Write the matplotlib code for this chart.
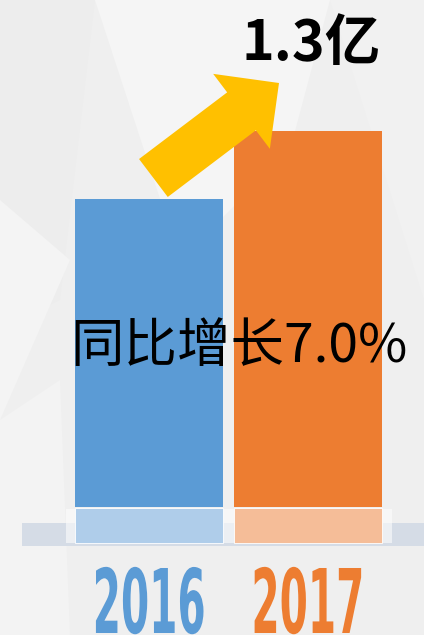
import matplotlib
matplotlib.use("Agg")
import matplotlib.pyplot as plt
import numpy as np
from matplotlib import font_manager
from matplotlib.patches import Polygon, Rectangle, FancyArrow
from matplotlib.patheffects import AbstractPathEffect
from matplotlib.transforms import Affine2D

# --------- DATA ----------
years = ["2016", "2017"]
values = [1.215, 1.30]          # 亿, 2017 = 1.3亿, +7.0%
total_label = "1.3亿"
growth_label = "同比增长7.0%"
bar_colors = ["#5B9BD5", "#ED7D31"]
light_colors = ["#AFCDEA", "#F5BD98"]

W, H = 424, 635
base = 0.785        # bars start here (axis is cut)
px_per_unit = 800.0
refl = 0.044        # lighter "reflection" part at the foot of each bar


class Stretch(AbstractPathEffect):
    # tall, narrow digits: scale glyphs around their centre / baseline
    def __init__(self, sx, sy):
        super().__init__()
        self.sx, self.sy = sx, sy

    def draw_path(self, renderer, gc, tpath, affine, rgbFace=None):
        ext = tpath.get_extents(affine)
        cx = (ext.x0 + ext.x1) / 2
        by = affine.transform_point((0, 0))[1]
        t = affine + Affine2D().translate(-cx, -by).scale(self.sx, self.sy).translate(cx, by)
        renderer.draw_path(gc, tpath, t, rgbFace)


names = {f.name for f in font_manager.fontManager.ttflist}
if "Liberation Sans Narrow" in names:
    year_font, digit_w, digit_h = "Liberation Sans Narrow", 0.456, 0.716
else:
    year_font, digit_w, digit_h = "DejaVu Sans", 0.696, 0.729

year_size = 44
em = year_size * 100 / 72
sx = 113 / (4 * digit_w * em)
sy = 65 / (digit_h * em)

cjk = ["Noto Sans CJK SC", "DejaVu Sans"]

fig = plt.figure(figsize=(W / 100, H / 100), dpi=100)
fig.patch.set_facecolor("#EFEFEF")

# --------- BACKGROUND ----------
bg = fig.add_axes([0, 0, 1, 1], zorder=0)
bg.set_xlim(0, W)
bg.set_ylim(H, 0)
bg.axis("off")
bg.add_patch(Polygon([(95, 0), (330, 0), (290, 150), (180, 260)], color="#F5F5F5", lw=0))
bg.add_patch(Polygon([(0, 0), (95, 0), (60, 300), (0, 330)], color="#EDEDED", lw=0))
bg.add_patch(Polygon([(0, 200), (70, 260), (0, 420)], color="#F4F4F4", lw=0))
bg.add_patch(Polygon([(330, 0), (424, 0), (424, 300)], color="#F1F1F1", lw=0))
bg.add_patch(Polygon([(0, 420), (60, 380), (70, 635), (0, 635)], color="#F3F3F3", lw=0))
bg.add_patch(Rectangle((22, 523), 402, 23, color="#D5DCE6", lw=0))
bg.add_patch(Rectangle((66, 509), 326, 34, color="white", alpha=0.55, lw=0))

# --------- BARS ----------
ax = fig.add_axes([0, 0, 1, 1], zorder=1)
ax.patch.set_alpha(0)
ax.set_xlim(-148.9 / 159, (W - 148.9) / 159)
ax.set_ylim(base - (H - 543) / px_per_unit, base + 543 / px_per_unit)
ax.axis("off")

x = np.arange(len(years))
vals = np.array(values)
gap = 1.2 / px_per_unit
ax.bar(x, vals - base - refl - gap, bottom=base + refl + gap, width=0.93, color=bar_colors)
ax.bar(x, refl, bottom=base, width=0.93, color=light_colors, edgecolor="white", linewidth=0.6)

for i, yr in enumerate(years):
    ax.text(i, base - 90 / px_per_unit, yr, ha="center", va="baseline",
            fontsize=year_size, fontweight="bold", family=year_font, color=bar_colors[i],
            path_effects=[Stretch(sx, sy)])

# --------- ARROW + TEXT ----------
top = fig.add_axes([0, 0, 1, 1], zorder=2)
top.patch.set_alpha(0)
top.set_xlim(0, W)
top.set_ylim(H, 0)
top.axis("off")

top.add_patch(FancyArrow(153.4, 178, 125.6, -95, width=47.6, head_width=94, head_length=47,
                         length_includes_head=True, color="#FFC000", lw=0))

top.text(242, 60, total_label, ha="left", va="baseline", fontsize=40,
         fontweight="bold", family=cjk, color="black")
top.text(70, 362, growth_label, ha="left", va="baseline", fontsize=38.5,
         family=cjk, color="black")

plt.savefig("out.png", dpi=100)
plt.close()
